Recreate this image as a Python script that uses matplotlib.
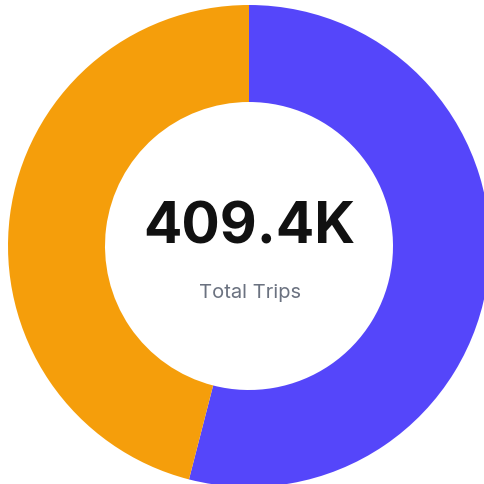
import matplotlib.pyplot as plt

# trip split shown in the donut
labels = ["Segment A", "Segment B"]
trips = [221100, 188300]
colors = ["#5546FA", "#F59E0B"]
total_text = "409.4K"
subtitle = "Total Trips"

fig = plt.figure(figsize=(4.85, 4.85), dpi=100)
ax = fig.add_axes([0, 0, 1, 1])

# donut: blue starts at 12 o'clock and runs clockwise
ax.pie(trips, colors=colors, startangle=90, counterclock=False,
       center=(249, 238), radius=241,
       wedgeprops=dict(width=97, linewidth=0))

ax.text(249, 257, total_text, ha="center", va="center",
        fontsize=41, fontweight="bold", family="Inter", color="#111111")
ax.text(250, 192, subtitle, ha="center", va="center",
        fontsize=14.5, family="Inter", color="#6B7280")

ax.set_xlim(0, 485)
ax.set_ylim(0, 485)
ax.set_aspect("equal")
ax.axis("off")

fig.savefig("out.png", dpi=100)
